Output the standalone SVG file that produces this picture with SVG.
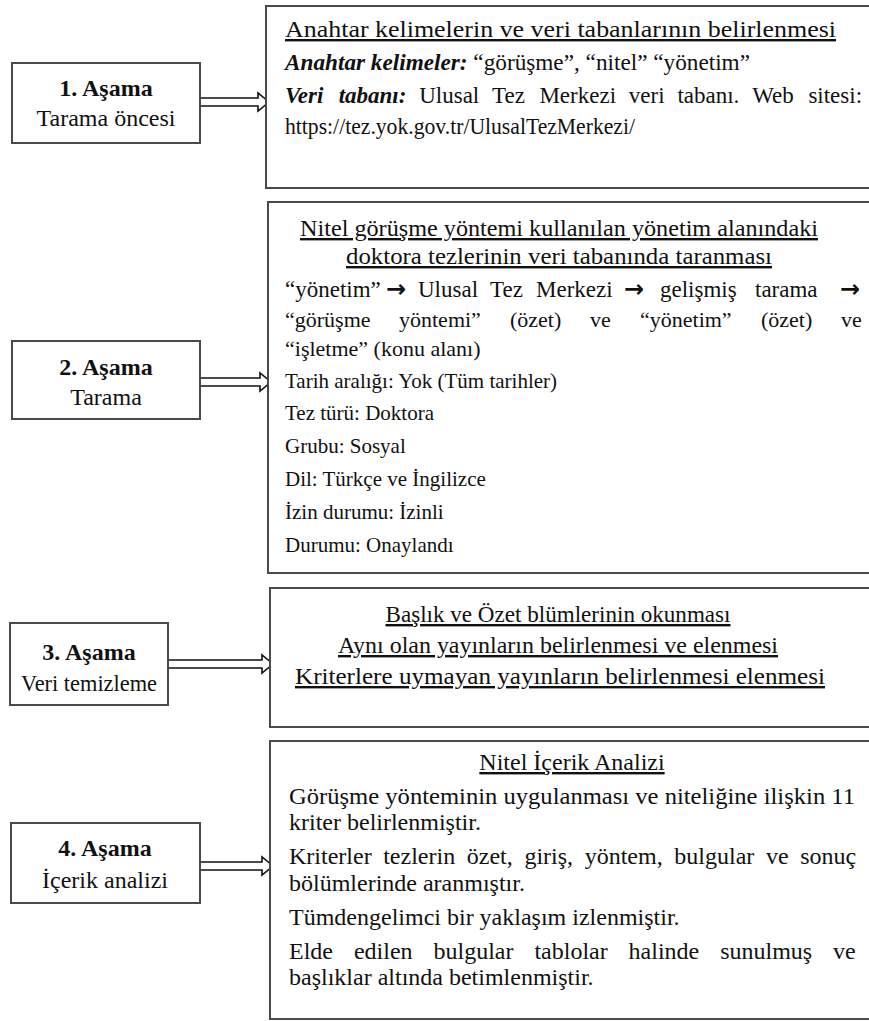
<svg xmlns="http://www.w3.org/2000/svg" width="869" height="1021" viewBox="0 0 869 1021">
<style>
.bx{fill:#fff;stroke:#4a4a4a;stroke-width:2}
.t{font-family:"Liberation Serif","Times New Roman",serif;font-size:22px;fill:#111}
.s24{font-size:24px}
.s23{font-size:23px}
.s21{font-size:21px}
.c{text-anchor:middle}
.b{font-weight:bold}
.bi{font-weight:bold;font-style:italic}
.u{text-decoration:underline}
.arw{font-family:"DejaVu Sans",sans-serif;font-weight:bold;font-size:24px}
.ar{fill:#fff;stroke:#111;stroke-width:1.6;stroke-linejoin:miter}
</style>
<rect width="869" height="1021" fill="#fff"/>

<g id="connectors">
<path class="ar" d="M200,98 L258,98 L258,93 L269,102 L258,111 L258,106 L200,106 Z"/>
<path class="ar" d="M200,378 L260,378 L260,373 L271,382 L260,391 L260,386 L200,386 Z"/>
<path class="ar" d="M168,660 L262,660 L262,655 L273,664 L262,673 L262,668 L168,668 Z"/>
<path class="ar" d="M200,862 L262,862 L262,857 L273,866 L262,875 L262,870 L200,870 Z"/>
</g>

<g id="stage1">
<rect class="bx" x="12" y="63" width="188" height="80"/>
<text class="t s24 c b" x="106" y="96">1. Aşama</text>
<text class="t s24 c" x="106" y="126">Tarama öncesi</text>
</g>
<g id="stage2">
<rect class="bx" x="12" y="341" width="188" height="78"/>
<text class="t s24 c b" x="106" y="375">2. Aşama</text>
<text class="t s24 c" x="106" y="405">Tarama</text>
</g>
<g id="stage3">
<rect class="bx" x="10" y="623" width="158" height="82"/>
<text class="t s24 c b" x="89" y="660">3. Aşama</text>
<text class="t s24 c" x="89" y="691" textLength="136" lengthAdjust="spacingAndGlyphs">Veri temizleme</text>
</g>
<g id="stage4">
<rect class="bx" x="11" y="823" width="189" height="80"/>
<text class="t s24 c b" x="105" y="856">4. Aşama</text>
<text class="t s24 c" x="105" y="888">İçerik analizi</text>
</g>

<g id="detail1">
<rect class="bx" x="266" y="6" width="620" height="182"/>
<text class="t s24 u" x="285" y="37" textLength="551" lengthAdjust="spacingAndGlyphs">Anahtar kelimelerin ve veri tabanlarının belirlenmesi</text>
<text class="t s23" x="285" y="70" textLength="465" lengthAdjust="spacingAndGlyphs"><tspan class="bi">Anahtar kelimeler:</tspan> “görüşme”, “nitel” “yönetim”</text>
<text class="t s23" y="103"><tspan class="bi" x="285">Veri</tspan><tspan class="bi" x="338.7">tabanı:</tspan><tspan x="419.2">Ulusal</tspan><tspan x="492.1">Tez</tspan><tspan x="539.4">Merkezi</tspan><tspan x="628.8">veri</tspan><tspan x="677.4">tabanı.</tspan><tspan x="752.2">Web</tspan><tspan x="808.4">sitesi:</tspan></text>
<text class="t s23" x="285" y="134" textLength="350" lengthAdjust="spacingAndGlyphs">https://tez.yok.gov.tr/UlusalTezMerkezi/</text>
</g>

<g id="detail2">
<rect class="bx" x="268" y="202" width="620" height="371"/>
<text class="t s24 c u" x="559" y="236" textLength="518" lengthAdjust="spacingAndGlyphs">Nitel görüşme yöntemi kullanılan yönetim alanındaki</text>
<text class="t s24 c u" x="559" y="264" textLength="426" lengthAdjust="spacingAndGlyphs">doktora tezlerinin veri tabanında taranması</text>
<text class="t s23" y="297"><tspan x="285">“yönetim”</tspan><tspan class="arw" x="386">→</tspan><tspan x="418">Ulusal</tspan><tspan x="490">Tez</tspan><tspan x="536">Merkezi</tspan><tspan class="arw" x="624">→</tspan><tspan x="660">gelişmiş</tspan><tspan x="755">tarama</tspan><tspan class="arw" x="840">→</tspan></text>
<text class="t" y="327"><tspan x="285">“görüşme</tspan><tspan x="399">yöntemi”</tspan><tspan x="510">(özet)</tspan><tspan x="590">ve</tspan><tspan x="640">“yönetim”</tspan><tspan x="761">(özet)</tspan><tspan x="841">ve</tspan></text>
<text class="t" x="285" y="356">“işletme” (konu alanı)</text>
<text class="t s21" x="285" y="388">Tarih aralığı: Yok (Tüm tarihler)</text>
<text class="t s21" x="285" y="420">Tez türü: Doktora</text>
<text class="t s21" x="285" y="453">Grubu: Sosyal</text>
<text class="t s21" x="285" y="486">Dil: Türkçe ve İngilizce</text>
<text class="t s21" x="285" y="519">İzin durumu: İzinli</text>
<text class="t s21" x="285" y="552">Durumu: Onaylandı</text>
</g>

<g id="detail3">
<rect class="bx" x="270" y="588" width="620" height="139"/>
<text class="t s24 c u" x="558" y="622" textLength="345" lengthAdjust="spacingAndGlyphs">Başlık ve Özet blümlerinin okunması</text>
<text class="t s24 c u" x="558" y="653" textLength="440" lengthAdjust="spacingAndGlyphs">Aynı olan yayınların belirlenmesi ve elenmesi</text>
<text class="t s24 c u" x="560" y="684" textLength="530" lengthAdjust="spacingAndGlyphs">Kriterlere uymayan yayınların belirlenmesi elenmesi</text>
</g>

<g id="detail4">
<rect class="bx" x="270" y="741" width="620" height="278"/>
<text class="t s24 c u" x="572" y="770">Nitel İçerik Analizi</text>
<text class="t s24" x="289" y="804" textLength="566" lengthAdjust="spacingAndGlyphs">Görüşme yönteminin uygulanması ve niteliğine ilişkin 11</text>
<text class="t s24" x="289" y="830">kriter belirlenmiştir.</text>
<text class="t s24" y="864"><tspan x="289">Kriterler</tspan><tspan x="383.2">tezlerin</tspan><tspan x="466.8">özet,</tspan><tspan x="524.4">giriş,</tspan><tspan x="584.7">yöntem,</tspan><tspan x="674.3">bulgular</tspan><tspan x="765.9">ve</tspan><tspan x="800.2">sonuç</tspan></text>
<text class="t s24" x="289" y="891">bölümlerinde aranmıştır.</text>
<text class="t s24" x="289" y="925">Tümdengelimci bir yaklaşım izlenmiştir.</text>
<text class="t s24" y="959"><tspan x="289">Elde</tspan><tspan x="353.9">edilen</tspan><tspan x="433.5">bulgular</tspan><tspan x="534.4">tablolar</tspan><tspan x="628.6">halinde</tspan><tspan x="720.2">sunulmuş</tspan><tspan x="833.1">ve</tspan></text>
<text class="t s24" x="289" y="985">başlıklar altında betimlenmiştir.</text>
</g>
</svg>
